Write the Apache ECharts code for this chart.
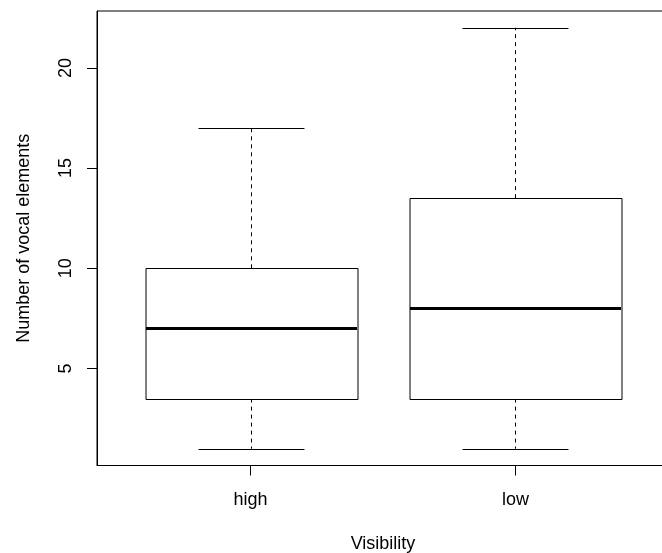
<!DOCTYPE html>
<html>
<head>
<meta charset="utf-8">
<script src="https://cdn.jsdelivr.net/npm/echarts@6/dist/echarts.min.js"></script>
<style>
html,body{margin:0;padding:0;background:#fff;}
#c{width:662px;height:553px;}
</style>
</head>
<body>
<div id="c"></div>
<script>
// Data
const categories = ['high', 'low'];
const whiskerLow = [1, 1];
const quartile1 = [3.5, 3.5];
const medians = [7, 8];
const quartile3 = [10, 13.5];
const whiskerHigh = [17, 22];
const yTicks = [5, 10, 15, 20];
const xTitle = 'Visibility';
const yTitle = 'Number of vocal elements';

const boxData = categories.map((c, i) => [i + 1, whiskerLow[i], quartile1[i], medians[i], quartile3[i], whiskerHigh[i]]);
const xPositions = categories.map((c, i) => i + 1);

const FONT = '"Liberation Sans", Arial, sans-serif';
const chart = echarts.init(document.getElementById('c'), null, {renderer: 'canvas'});

function renderBox(params, api) {
  const x = api.value(0);
  const pMin = api.coord([x, api.value(1)]);
  const pQ1 = api.coord([x, api.value(2)]);
  const pMed = api.coord([x, api.value(3)]);
  const pQ3 = api.coord([x, api.value(4)]);
  const pMax = api.coord([x, api.value(5)]);
  const halfW = api.size([0.4, 0])[0];
  const capW = halfW / 2;
  const cx = Math.round(pMed[0]) + 0.5;
  const lineStyle = {stroke: '#000', lineWidth: 1, fill: null};
  const dashStyle = {stroke: '#000', lineWidth: 1, lineDash: [4, 4], fill: null};
  return {
    type: 'group',
    children: [
      {type: 'line', shape: {x1: cx, y1: pQ1[1], x2: cx, y2: pMin[1]}, style: dashStyle},
      {type: 'line', shape: {x1: cx, y1: pQ3[1], x2: cx, y2: pMax[1]}, style: dashStyle},
      {type: 'line', shape: {x1: cx - capW, y1: Math.round(pMin[1]) + 0.5, x2: cx + capW, y2: Math.round(pMin[1]) + 0.5}, style: lineStyle},
      {type: 'line', shape: {x1: cx - capW, y1: Math.round(pMax[1]) + 0.5, x2: cx + capW, y2: Math.round(pMax[1]) + 0.5}, style: lineStyle},
      {type: 'rect', shape: {x: Math.round(cx - halfW), y: Math.round(pQ3[1]) + 0.5, width: Math.round(2 * halfW), height: Math.round(pQ1[1]) - Math.round(pQ3[1])},
        style: {fill: '#fff', stroke: '#000', lineWidth: 1}},
      {type: 'line', shape: {x1: Math.round(cx - halfW), y1: pMed[1], x2: Math.round(cx + halfW), y2: pMed[1]}, style: {stroke: '#000', lineWidth: 3}}
    ]
  };
}

chart.setOption({
  animation: false,
  backgroundColor: '#fff',
  grid: {left: 97, top: 11, width: 572, height: 454.5, show: true, borderColor: '#000', borderWidth: 1, backgroundColor: 'transparent',
    containLabel: false, outerBoundsMode: 'none'},
  xAxis: {
    type: 'value', min: 0.42, max: 2.58,
    name: xTitle, nameLocation: 'middle', nameGap: 70,
    nameTextStyle: {fontFamily: FONT, fontSize: 18, color: '#000'},
    axisLine: {show: true, onZero: false, lineStyle: {color: '#000', width: 1}},
    axisTick: {show: true, inside: false, length: 10, lineStyle: {color: '#000'}, customValues: xPositions},
    axisLabel: {show: true, margin: 26, fontFamily: FONT, fontSize: 18, color: '#000', customValues: xPositions,
      formatter: v => categories[Math.round(v) - 1] || ''},
    splitLine: {show: false}
  },
  yAxis: {
    type: 'value', min: 0.16, max: 22.84,
    name: yTitle, nameLocation: 'middle', nameGap: 64, nameRotate: 90,
    nameTextStyle: {fontFamily: FONT, fontSize: 18, color: '#000'},
    axisLine: {show: true, onZero: false, lineStyle: {color: '#000', width: 1}},
    axisTick: {show: true, inside: false, length: 10, lineStyle: {color: '#000'}, customValues: yTicks},
    axisLabel: {show: true, rotate: 90, margin: 22, fontFamily: FONT, fontSize: 18, color: '#000', customValues: yTicks},
    splitLine: {show: false}
  },
  series: [{
    type: 'custom',
    renderItem: renderBox,
    encode: {x: 0, y: [1, 2, 3, 4, 5]},
    data: boxData,
    clip: false
  }]
});
</script>
</body>
</html>
